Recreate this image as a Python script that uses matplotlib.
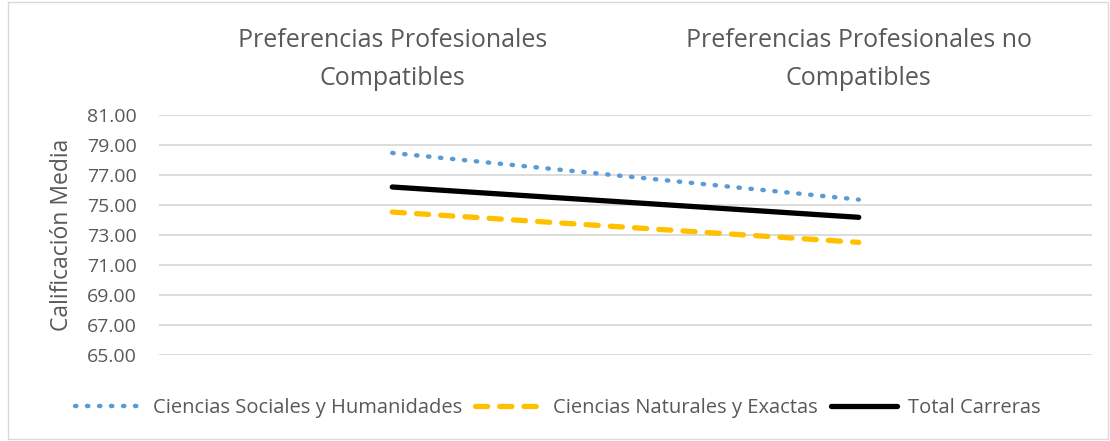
import matplotlib
matplotlib.use("Agg")
import matplotlib.pyplot as plt
from matplotlib.patches import Rectangle

categories = ["Preferencias Profesionales\nCompatibles", "Preferencias Profesionales no\nCompatibles"]
sociales = [78.47, 75.36]
naturales = [74.53, 72.51]
total = [76.20, 74.18]
yticks = [65, 67, 69, 71, 73, 75, 77, 79, 81]

plt.rcParams['font.family'] = ['Open Sans', 'DejaVu Sans']
TXT = '#595959'

fig = plt.figure(figsize=(11.1, 4.41), dpi=100)
ax = fig.add_axes([159/1110, 1-355/441, (1092-159)/1110, (355-115)/441])

x = list(range(len(categories)))
l1, = ax.plot(x, sociales, color='#5B9BD5', lw=3.2, linestyle=(0, (0.3, 2.4)),
              dash_capstyle='round', label='Ciencias Sociales y Humanidades')
l2, = ax.plot(x, naturales, color='#FFC000', lw=3.8, linestyle=(0, (2.3, 2.3)),
              dash_capstyle='round', label='Ciencias Naturales y Exactas')
l3, = ax.plot(x, total, color='black', lw=3.8, solid_capstyle='round', label='Total Carreras')

ax.set_xlim(-0.5, 1.5)
ax.set_ylim(65, 81)
ax.set_yticks(yticks)
ax.set_yticklabels([f"{v:.2f}" for v in yticks], fontsize=14, color=TXT)
ax.yaxis.grid(True, color='#D9D9D9', lw=1.3)
ax.set_axisbelow(True)
for s in ax.spines.values():
    s.set_visible(False)
ax.tick_params(axis='y', length=0, pad=16)
ax.xaxis.tick_top()
ax.set_xticks(x)
ax.set_xticklabels(categories, fontsize=18, color=TXT, linespacing=1.7)
ax.tick_params(axis='x', length=0, pad=17)
ax.set_ylabel('Calificación Media', fontsize=16.5, color=TXT)
ax.yaxis.set_label_coords((74-159)/933, 0.5)

fig.legend(handles=[l1, l2, l3], loc='center', bbox_to_anchor=(558/1110, 1-408/441),
           ncol=3, frameon=False, fontsize=14.5, labelcolor=TXT, handlelength=3.3,
           handletextpad=0.55, columnspacing=0.65)

fig.patches.append(Rectangle((8/1110, 2/441), 1-10/1110, 1-4/441, transform=fig.transFigure,
                             fill=False, edgecolor='#D9D9D9', lw=1.0))
fig.savefig('out.png', dpi=100)
